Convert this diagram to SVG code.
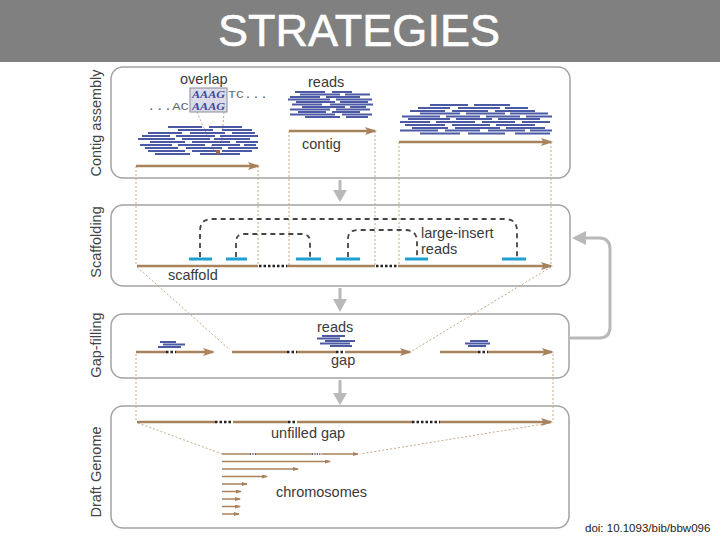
<svg xmlns="http://www.w3.org/2000/svg" width="720" height="540" viewBox="0 0 720 540">
<style>
.panel{fill:#fff;stroke:#a3a3a3;stroke-width:1.5}
.lbl{font-family:"Liberation Sans",Arial,sans-serif;font-size:14.5px;fill:#3a3a3a}
.side{font-family:"Liberation Sans",Arial,sans-serif;font-size:14.5px;fill:#444;text-anchor:middle}
.rd{fill:none;stroke:#4c5aa6;stroke-width:2.2}
.br{fill:none;stroke:#a8825c;stroke-width:2.5}
.brt{fill:none;stroke:#a8825c;stroke-width:1.5}
.gap{fill:none;stroke:#222;stroke-width:2.5;stroke-dasharray:2.5 2}
.gapt{fill:none;stroke:#333;stroke-width:1.3;stroke-dasharray:1.2 1.2}
.guide{fill:none;stroke:#c9a886;stroke-width:1;stroke-dasharray:2 2}
.ins{fill:none;stroke:#1ea0d2;stroke-width:3}
.arc{fill:none;stroke:#444;stroke-width:1.8;stroke-dasharray:5 4}
.garrow{fill:#b9b9b9}
.gline{fill:none;stroke:#b9b9b9;stroke-width:3}
.mono{font-family:"Liberation Mono","Courier New",monospace;font-size:11px;fill:#6a6a6a}
.seq{font-family:"Liberation Serif","Times New Roman",serif;font-size:10.5px;font-weight:bold;font-style:italic;fill:#3b4a9e}
</style>
<defs>
<marker id="ah" viewBox="0 0 12 8" refX="10" refY="4" markerWidth="12" markerHeight="8" markerUnits="userSpaceOnUse" orient="auto"><path d="M0,0 L12,4 L0,8 L2.5,4 z" fill="#a8825c"/></marker>
<marker id="ahs" viewBox="0 0 6 4" refX="5" refY="2" markerWidth="6" markerHeight="4" markerUnits="userSpaceOnUse" orient="auto"><path d="M0,0 L6,2 L0,4 z" fill="#a8825c"/></marker>
</defs>

<g id="title">
<rect x="0" y="0" width="720" height="62" fill="#808080"/>
<text x="359" y="46" font-family="Liberation Sans,Arial,sans-serif" font-size="45" fill="#fff" stroke="#fff" stroke-width="0.6" text-anchor="middle" textLength="282" lengthAdjust="spacingAndGlyphs">STRATEGIES</text>
</g>

<g id="panels">
<rect class="panel" x="111" y="67" width="459" height="111" rx="12"/>
<rect class="panel" x="111" y="205" width="459" height="81" rx="12"/>
<rect class="panel" x="111" y="314" width="458" height="64" rx="12"/>
<rect class="panel" x="111" y="406" width="458" height="122" rx="12"/>
<text class="side" transform="translate(101,123) rotate(-90)">Contig assembly</text>
<text class="side" transform="translate(101,242) rotate(-90)">Scaffolding</text>
<text class="side" transform="translate(101,345) rotate(-90)">Gap-filling</text>
<text class="side" transform="translate(101,472) rotate(-90)">Draft Genome</text>
</g>

<g id="connectors">
<path class="guide" d="M136 166V265M258 166V265M289 131V265M375 131V265M399 142V265M551 142V265"/>
<path class="guide" d="M137 267L230 350M551 267L412 351"/>
<path class="guide" d="M136 354V422M553 354V422"/>
<path class="guide" d="M138 423L222 454M550 423L360 454"/>
<path class="guide" d="M197 112L214 151M224 112L221 151" stroke="#b09070"/>
<path class="gline" d="M340 180V191M340 288V300M340 380V394"/>
<polygon class="garrow" points="333,190 347,190 340,202"/>
<polygon class="garrow" points="333,299 347,299 340,312"/>
<polygon class="garrow" points="333,393 347,393 340,405"/>
<path class="gline" d="M569 338H599Q610 338 610 327V249Q610 238 599 238H584"/>
<polygon class="garrow" points="572,238 586,231 586,245"/>
</g>

<g id="contig-assembly">
<text class="lbl" x="180" y="84">overlap</text>
<rect x="190" y="88" width="37" height="24" fill="#dcdce8" stroke="#8a8a9a" stroke-width="1"/>
<text class="seq" x="192" y="98" textLength="33" lengthAdjust="spacingAndGlyphs">AAAG</text>
<text class="mono" x="228" y="98" textLength="40" lengthAdjust="spacingAndGlyphs">TC...</text>
<text class="mono" x="147" y="109.5" textLength="42" lengthAdjust="spacingAndGlyphs">...AC</text>
<text class="seq" x="192" y="109.5" textLength="33" lengthAdjust="spacingAndGlyphs">AAAG</text>
<path class="rd" d="M168 127H202M209 127H242M178 130H213M222 130H252M148 133H182M190 133H225M232 133H255M142 136H170M176 136H215M220 136H258M138 139H175M182 139H210M214 139H250M150 142H185M192 142H230M236 142H258M140 145H172M178 145H205M212 145H240M244 145H256M145 148H178M186 148H222M228 148H258M148 151H185M192 151H218M222 151H252M155 154H190M200 154H240"/>
<rect x="216" y="150" width="4" height="4" fill="#a0604a"/>
<path class="br" d="M136 166H258" marker-end="url(#ah)"/>
<text class="lbl" x="308" y="87">reads</text>
<path class="rd" d="M295 92H325M332 92H352M300 94.5H340M345 94.5H370M290 97H320M326 97H360M288 99.5H330M336 99.5H372M296 102H335M340 102H368M292 104.5H322M330 104.5H373M302 107H345M350 107H366M290 109.5H330M336 109.5H370M298 112H326M332 112H360M290 114.5H335M342 114.5H372M305 117H340M346 117H368"/>
<path class="br" d="M289 131H375" marker-end="url(#ah)"/>
<text class="lbl" x="302" y="149">contig</text>
<path class="rd" d="M430 105H468M474 105H510M418 108H450M458 108H500M505 108H528M410 111H445M452 111H488M495 111H535M420 113.5H460M466 113.5H505M510 113.5H548M402 116.5H440M446 116.5H480M486 116.5H520M526 116.5H552M408 119H450M456 119H492M498 119H540M400 122H430M436 122H475M482 122H515M522 122H550M405 125H445M452 125H490M496 125H535M412 128H448M455 128H500M506 128H545M400 130.5H438M445 130.5H480M488 130.5H525M530 130.5H552M420 133.5H460M468 133.5H505M515 133.5H550"/>
<path class="br" d="M399 142H551" marker-end="url(#ah)"/>
</g>

<g id="scaffolding">
<path class="arc" d="M200 257V231Q200 219 212 219H505Q517 219 517 231V257"/>
<path class="arc" d="M236 257V242Q236 234 244 234H302Q310 234 310 242V257"/>
<path class="arc" d="M348 257V239Q348 230 358 230H405Q416 230 417 240V257"/>
<path class="ins" d="M189 259H212M226 259H247M296 259H321M336 259H360M405 259H428M502 259H526"/>
<path class="br" d="M137 266H258M287 266H375"/>
<path class="gap" d="M259 266H287M376 266H398"/>
<path class="br" d="M398 266H551" marker-end="url(#ah)"/>
<text class="lbl" x="421" y="238">large-insert</text>
<text class="lbl" x="421" y="254">reads</text>
<text class="lbl" x="168" y="280">scaffold</text>
</g>

<g id="gap-filling">
<text class="lbl" x="317" y="332">reads</text>
<path class="rd" d="M160 342H176M163 344.5H185M158 347H181M322 336H345M317 338.5H340M325 341H355M320 343.5H350M330 346H352M470 341H488M465 343.5H490M468 346H486"/>
<path class="br" d="M136 352H166"/>
<path class="gap" d="M166 352H176"/>
<path class="br" d="M176 352H213" marker-end="url(#ah)"/>
<path class="br" d="M232 352H287M297 352H336"/>
<path class="gap" d="M287 352H297M336 352H345"/>
<path class="br" d="M345 352H410" marker-end="url(#ah)"/>
<path class="br" d="M440 352H478"/>
<path class="gap" d="M478 352H488"/>
<path class="br" d="M488 352H552" marker-end="url(#ah)"/>
<text class="lbl" x="331" y="365">gap</text>
</g>

<g id="draft-genome">
<path class="br" d="M137 422H215M233 422H288M297 422H412"/>
<path class="gap" d="M215 422H233M288 422H297M412 422H440"/>
<path class="br" d="M440 422H551" marker-end="url(#ah)"/>
<text class="lbl" x="271" y="438">unfilled gap</text>
<path class="brt" d="M222 454H250M256 454H312"/>
<path class="gapt" d="M250 454H256M312 454H322"/>
<path class="brt" d="M322 454H358" marker-end="url(#ahs)"/>
<path class="brt" d="M222 461.5H330" marker-end="url(#ahs)"/>
<path class="brt" d="M222 469H298" marker-end="url(#ahs)"/>
<path class="brt" d="M222 476.5H267" marker-end="url(#ahs)"/>
<path class="brt" d="M222 484H247" stroke-width="1" stroke="#c8a886" marker-end="url(#ahs)"/>
<path class="brt" d="M222 491.5H241" marker-end="url(#ahs)"/>
<path class="brt" d="M222 499H240" marker-end="url(#ahs)"/>
<path class="brt" d="M222 506.5H240" marker-end="url(#ahs)"/>
<path class="brt" d="M222 514H239" marker-end="url(#ahs)"/>
<text class="lbl" x="276" y="497">chromosomes</text>
</g>

<text x="585" y="532" font-family="Liberation Sans,Arial,sans-serif" font-size="11.5" fill="#222">doi: 10.1093/bib/bbw096</text>
</svg>
